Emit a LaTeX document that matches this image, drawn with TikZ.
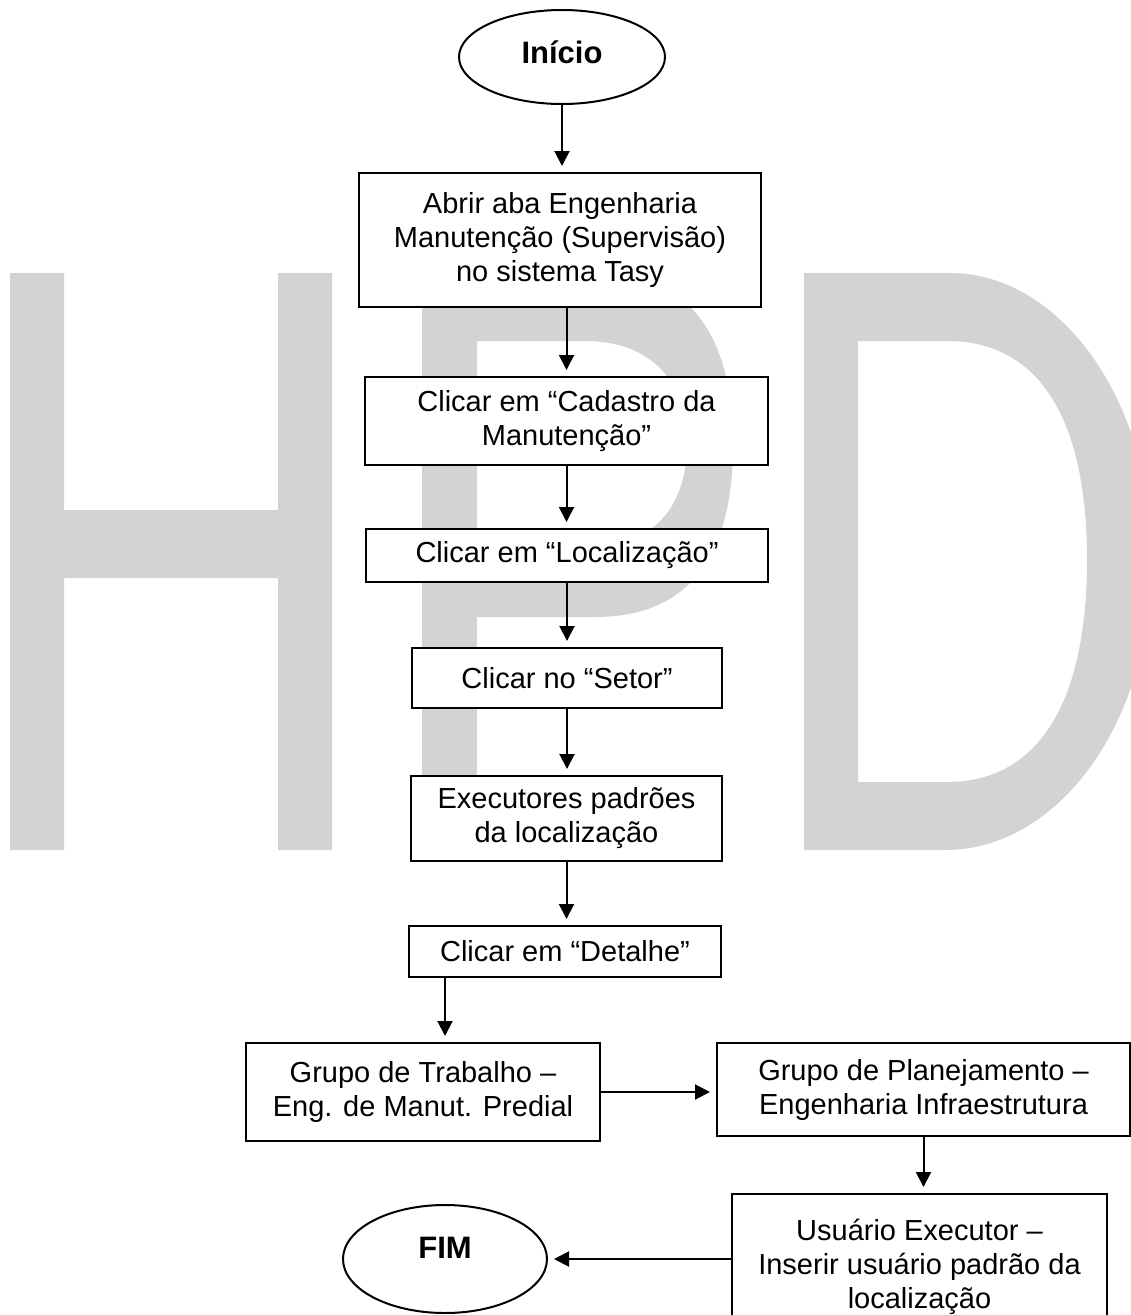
\documentclass[tikz,border=0pt]{standalone}
\usepackage{fontspec}
\setmainfont{Liberation Sans}
\usetikzlibrary{
    arrows.meta,
    shapes.geometric
}
\tikzset{
  box/.style  = {draw, line width=2pt, fill=white, inner sep=0pt, align=center,
                 font=\fontsize{29}{34}\selectfont},
  term/.style = {draw, ellipse, line width=2pt, fill=white, inner sep=0pt,
                 font=\fontsize{31}{36}\selectfont\bfseries},
  arr/.style  = {-{Triangle[length=15pt,width=15pt]}, line width=2pt, shorten >=6pt}
}
\definecolor{WmGray}{RGB}{211,211,211}

\begin{document}
\begin{tikzpicture}[x=1pt, y=-1pt]
\useasboundingbox (0,0) rectangle (1131,1315);
\fill[white] (0,0) rectangle (1131,1315);
\clip (0,0) rectangle (1131,1315);
\fill[WmGray] (10,273) rectangle (64,850) (278,273) rectangle (332,850) (64,510) rectangle (278,578);
\fill[WmGray] (422,273) rectangle (477,850);
\fill[WmGray, even odd rule] (477,273) -- (595,273) .. controls (690,273) and (733,335) .. (733,445) .. controls (733,555) and (690,617) .. (595,617) -- (477,617) -- cycle
  (477,341) -- (585,341) .. controls (650,341) and (687,380) .. (687,444) .. controls (687,510) and (650,548) .. (585,548) -- (477,548) -- cycle;
\fill[WmGray, even odd rule] (804,273) -- (950,273) .. controls (1060,273) and (1152,400) .. (1152,560) .. controls (1152,720) and (1060,850) .. (945,850) -- (804,850) -- cycle
  (858,341) -- (947,341) .. controls (1040,341) and (1087,420) .. (1087,560) .. controls (1087,700) and (1040,782) .. (947,782) -- (858,782) -- cycle;
\node[term, minimum width=206pt, minimum height=94pt] (ini) at (562,57) {\raisebox{10pt}{Início}};
\node[box, minimum width=402pt, minimum height=134pt] (abr) at (560,240) {Abrir aba Engenharia\\Manutenção (Supervisão)\\no sistema Tasy};
\node[box, minimum width=403pt, minimum height=88pt] (cad) at (566.5,421) {Clicar em “Cadastro da\\Manutenção”};
\node[box, minimum width=402pt, minimum height=53pt] (loc) at (567,555.5) {Clicar em “Localização”};
\node[box, minimum width=310pt, minimum height=60pt] (setor) at (567,678) {Clicar no “Setor”};
\node[box, minimum width=311pt, minimum height=85pt] (exe) at (566.5,818.5) {Executores padrões\\da localização};
\node[box, minimum width=312pt, minimum height=51pt] (det) at (565,951.5) {Clicar em “Detalhe”};
\node[box, minimum width=354pt, minimum height=98pt] (trab) at (423,1092) {Grupo de Trabalho –\\Eng. de Manut. Predial};
\node[box, minimum width=413pt, minimum height=93pt] (plan) at (923.5,1089.5) {Grupo de Planejamento –\\Engenharia Infraestrutura};
\node[box, minimum width=375pt, minimum height=146pt] (usu) at (919.5,1267) {Usuário Executor –\\Inserir usuário padrão da\\localização};
\node[term, minimum width=204pt, minimum height=108pt] (fim) at (445,1259) {\raisebox{22pt}{FIM}};
\draw[arr] (ini.south) -- (ini.south |- abr.north);
\draw[arr] (abr.south -| cad.north) -- (cad.north);
\draw[arr] (cad.south) -- (cad.south |- loc.north);
\draw[arr] (loc.south) -- (setor.north);
\draw[arr] (setor.south) -- (setor.south |- exe.north);
\draw[arr] (exe.south) -- (exe.south |- det.north);
\draw[arr] (det.south -| fim) -- (fim |- trab.north);
\draw[arr] (trab.east) -- (trab.east -| plan.west);
\draw[arr] (plan.south) -- (plan.south |- usu.north);
\draw[arr] (usu.west |- fim) -- (fim.east);
\end{tikzpicture}
\end{document}
